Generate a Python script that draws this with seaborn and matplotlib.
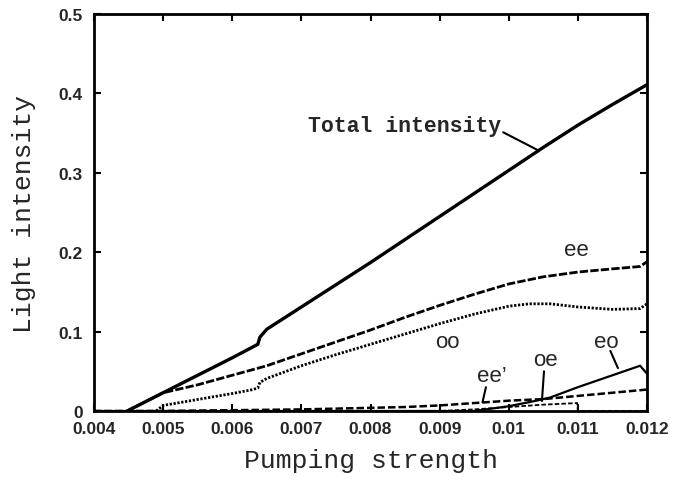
import numpy as np
import pandas as pd
import matplotlib
matplotlib.use("Agg")
import matplotlib.pyplot as plt
import seaborn as sns

# ---- data ----
total_x = [0.00448, 0.005, 0.0055, 0.006, 0.00637, 0.0064, 0.0065, 0.007, 0.0075, 0.008,
           0.0085, 0.009, 0.0095, 0.010, 0.0105, 0.011, 0.0115, 0.012]
total_y = [0.0, 0.023, 0.045, 0.067, 0.084, 0.093, 0.103, 0.131, 0.159, 0.187,
           0.216, 0.245, 0.274, 0.303, 0.332, 0.360, 0.386, 0.411]

ee_x = [0.00448, 0.005, 0.0055, 0.006, 0.0065, 0.007, 0.0075, 0.008, 0.0085, 0.009,
        0.0095, 0.010, 0.0105, 0.011, 0.0115, 0.0119, 0.012]
ee_y = [0.0, 0.023, 0.033, 0.045, 0.057, 0.072, 0.087, 0.102, 0.118, 0.133,
        0.147, 0.160, 0.169, 0.175, 0.179, 0.182, 0.188]

oo_x = [0.0049, 0.005, 0.0055, 0.006, 0.0063, 0.00637, 0.0064, 0.0065, 0.007, 0.0075,
        0.008, 0.0085, 0.009, 0.0095, 0.010, 0.0103, 0.0106, 0.011, 0.0115, 0.0119, 0.012]
oo_y = [0.0, 0.007, 0.0145, 0.022, 0.027, 0.029, 0.036, 0.041, 0.057, 0.071,
        0.084, 0.097, 0.110, 0.122, 0.132, 0.135, 0.135, 0.131, 0.128, 0.129, 0.135]

eep_x = [0.004, 0.005, 0.006, 0.007, 0.008, 0.0085, 0.009, 0.0095, 0.010, 0.0105,
         0.011, 0.0115, 0.012]
eep_y = [0.0, 0.0, 0.001, 0.002, 0.004, 0.005, 0.007, 0.010, 0.013, 0.015,
         0.019, 0.023, 0.027]

oe_x = [0.004, 0.009, 0.0095, 0.010, 0.0105, 0.01099, 0.011, 0.012]
oe_y = [0.0, 0.0, 0.002, 0.005, 0.008, 0.010, 0.0, 0.0]

eo_x = [0.004, 0.0095, 0.010, 0.0104, 0.0106, 0.011, 0.0114, 0.0119, 0.012]
eo_y = [0.0, 0.0, 0.006, 0.013, 0.017, 0.030, 0.042, 0.057, 0.047]

x_ticks = [0.004, 0.005, 0.006, 0.007, 0.008, 0.009, 0.01, 0.011, 0.012]
x_tick_labels = ["0.004", "0.005", "0.006", "0.007", "0.008", "0.009", "0.01", "0.011", "0.012"]
y_ticks = [0, 0.1, 0.2, 0.3, 0.4, 0.5]
y_tick_labels = ["0", "0.1", "0.2", "0.3", "0.4", "0.5"]

# ---- style ----
sns.set_style("ticks")
plt.rcParams["font.family"] = ["Liberation Sans", "DejaVu Sans"]

fig = plt.figure(figsize=(6.94, 4.85), dpi=100)
ax = fig.add_axes([94/694, 1-412/485, (647-94)/694, (412-15)/485])

def draw(x, y, **kw):
    df = pd.DataFrame({"x": x, "y": y})
    sns.lineplot(data=df, x="x", y="y", ax=ax, color="black", sort=False,
                 estimator=None, **kw)

draw(eep_x, eep_y, linewidth=1.8, linestyle=(0, (3, 1.2)))
draw(oe_x, oe_y, linewidth=1.3, linestyle=(0, (2.5, 1.2)))
draw(eo_x, eo_y, linewidth=1.6, linestyle="-")
draw(oo_x, oo_y, linewidth=2.0, linestyle=(0, (0.8, 0.6)))
draw(ee_x, ee_y, linewidth=2.0, linestyle=(0, (3, 0.8)))
draw(total_x, total_y, linewidth=2.4, linestyle="-", solid_capstyle="butt")

ax.set_xlim(0.004, 0.012)
ax.set_ylim(0, 0.5)
ax.set_xticks(x_ticks)
ax.set_xticklabels(x_tick_labels)
ax.set_yticks(y_ticks)
ax.set_yticklabels(y_tick_labels)

for lab in ax.get_xticklabels() + ax.get_yticklabels():
    lab.set_fontweight("bold")
    lab.set_fontsize(12.5)

ax.tick_params(axis="both", direction="in", length=5, width=1.5,
               top=True, right=True, color="black")
ax.tick_params(axis="x", pad=7)
ax.tick_params(axis="y", pad=8)
for sp in ax.spines.values():
    sp.set_linewidth(2.0)
    sp.set_color("black")

ax.set_xlabel("Pumping strength", family="Liberation Mono", fontsize=19, labelpad=9)
ax.set_ylabel("Light intensity", family="Liberation Mono", fontsize=19, labelpad=16)

# curve annotations
ax.text(0.0085, 0.359, "Total intensity", family="Liberation Mono", fontweight="bold",
        fontsize=15.5, ha="center", va="center")
ax.plot([0.00992, 0.01041], [0.351, 0.329], color="black", linewidth=1.5)

lab_kw = dict(fontsize=16, ha="center", va="center")
ax.text(0.01098, 0.203, "ee", **lab_kw)
ax.text(0.00911, 0.088, "oo", **lab_kw)
ax.text(0.01141, 0.087, "eo", **lab_kw)
ax.text(0.01053, 0.065, "oe", **lab_kw)
ax.text(0.00975, 0.045, "ee\u2019", **lab_kw)
ax.plot([0.01147, 0.01158], [0.0756, 0.054], color="black", linewidth=1.5)
ax.plot([0.01051, 0.01048], [0.050, 0.0126], color="black", linewidth=1.5)
ax.plot([0.00967, 0.00962], [0.030, 0.011], color="black", linewidth=1.5)

fig.savefig("out.png", dpi=100)
